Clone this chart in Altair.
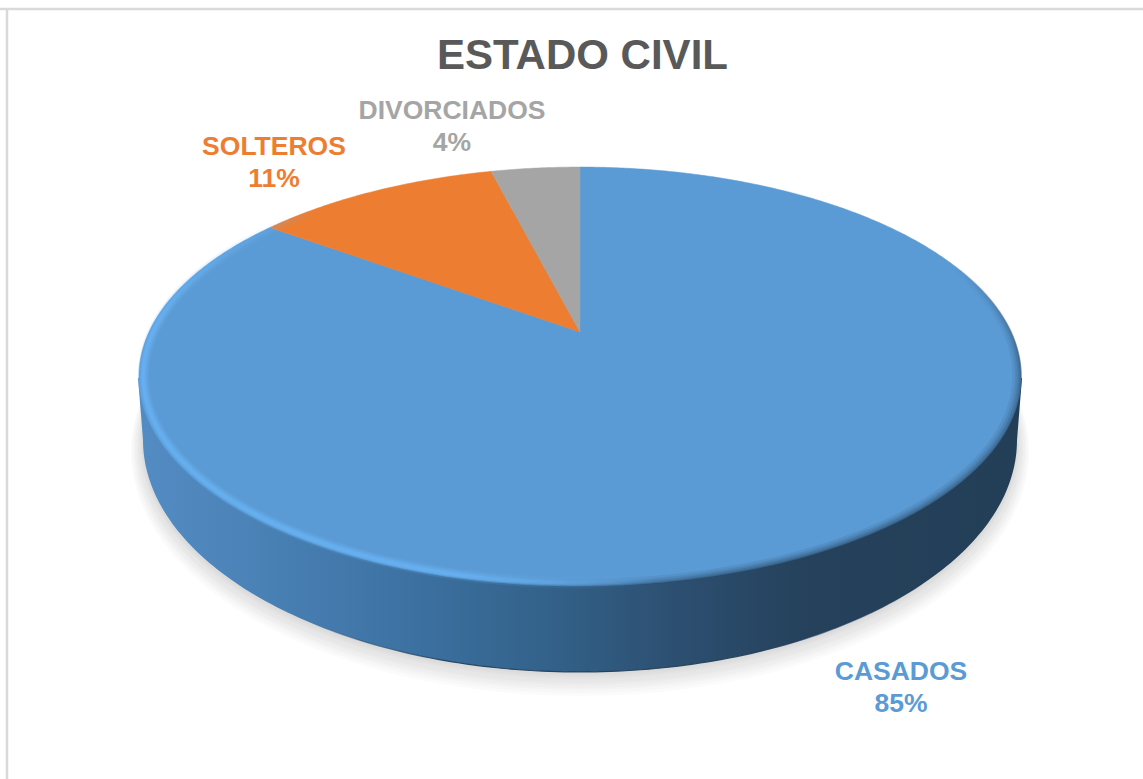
import math
import altair as alt
import pandas as pd

# Marital status shares, clockwise from twelve o'clock
categories = ["CASADOS", "SOLTEROS", "DIVORCIADOS"]
shares = [85, 11, 4]
colors = ["#5B9BD5", "#ED7D31", "#A5A5A5"]

W, H, TOP = 1143, 779, 70
# Tilted disc: a circle seen in perspective
CX, CY, AX, BY, K = 580.0, 332.0, 431.0, 200.0, 0.2124
# Outline of the disc's underside
LOW_CX, LOW_CY, LOW_A, LOW_B = 580.0, 440.0, 437.0, 232.0

x_scale = alt.Scale(domain=[0, W], range=[0, W], nice=False, zero=False)
y_scale = alt.Scale(domain=[H, TOP], range=[H - TOP, 0], nice=False, zero=False)


def face_point(deg, r=1.0):
    t = math.radians(deg)
    u, v = r * math.sin(t), -r * math.cos(t)
    d = 1 - K * v
    return CX + AX * u / d, CY + BY * v / d


def low_point(deg, grow=0.0, dy=0.0):
    t = math.radians(deg)
    return LOW_CX + (LOW_A + grow) * math.sin(t), LOW_CY + dy - (LOW_B + grow) * math.cos(t)


def sweep(fn, start, end, step=1.0, **kw):
    n = max(2, int(abs(end - start) / step))
    return [fn(start + (end - start) * i / n, **kw) for i in range(n + 1)]


def path_layer(points, **mark):
    df = pd.DataFrame(points, columns=["x", "y"])
    df["i"] = range(len(df))
    return alt.Chart(df).mark_line(clip=False, **mark).encode(
        x=alt.X("x:Q", scale=x_scale, axis=None),
        y=alt.Y("y:Q", scale=y_scale, axis=None),
        order="i:Q",
    )


def poly(points, color, **mark):
    return path_layer(points + points[:1], filled=True, color=color, **mark)


def fade(rgb, stops, vertical=False):
    """Linear gradient of one colour with (offset, alpha) stops."""
    ends = dict(x1=0, x2=0, y1=0, y2=1) if vertical else dict(x1=0, x2=1, y1=0, y2=0)
    return alt.Gradient(
        gradient="linear",
        stops=[alt.GradientStop(offset=o, color=f"rgba({rgb},{a})") for o, a in stops],
        **ends,
    )


layers = []

# Chart frame: top and left edges only
layers.append(path_layer([(0.0, 9.0), (1143.0, 9.0)], color="#D9D9D9", strokeWidth=2.5))
layers.append(path_layer([(7.0, 9.0), (7.0, 779.0)], color="#D9D9D9", strokeWidth=2.5))

# Soft shadow on the page beneath the disc
for grow, dy in [(12, 12), (11, 10), (9, 9), (8, 8), (6, 7), (5, 6), (3, 4), (2, 3), (1, 2)]:
    layers.append(poly(sweep(low_point, 0, 360, 2, grow=grow, dy=dy), "#000000", opacity=0.017, strokeWidth=0))

# Side wall with its left-to-right fall-off
wall_pts = sweep(low_point, 270, 90, 1) + [(1022.0, 378.0), (138.0, 378.0)]
wall_fill = alt.Gradient(
    gradient="linear", x1=0, x2=1, y1=0, y2=0,
    stops=[
        alt.GradientStop(offset=0.0, color="#538CC3"),
        alt.GradientStop(offset=0.10, color="#4D85BA"),
        alt.GradientStop(offset=0.30, color="#3D72A3"),
        alt.GradientStop(offset=0.46, color="#33628A"),
        alt.GradientStop(offset=0.62, color="#2C4E6F"),
        alt.GradientStop(offset=0.76, color="#25415B"),
        alt.GradientStop(offset=1.0, color="#233F58"),
    ],
)
layers.append(path_layer(wall_pts + wall_pts[:1], filled=True, color=wall_fill, strokeWidth=0))

# Dark seam along the bottom of the wall
seam = fade("31,59,87", [(0, 0), (0.25, 0.9), (0.75, 0.9), (1, 0)])
layers.append(path_layer(sweep(low_point, 222, 128, 1), stroke=seam, strokeWidth=1.2))

# Slices of the top face, drawn from the shares
angle = 0.0
total = sum(shares)
for name, share, color in zip(categories, shares, colors):
    span = 360.0 * share / total
    pts = [face_point(0, 0)] + sweep(face_point, angle, angle + span, 0.5)
    layers.append(poly(pts, color, strokeWidth=0.5, stroke=color))
    angle += span

# Shaded lip on the right and bottom of the face, fading out at both ends
lip_up = fade("36,64,90", [(0, 0), (0.35, 0.9), (1, 1)], vertical=True)
lip_low = fade("36,64,90", [(0, 0), (0.7, 1), (1, 1)])
for r, w, op in [(0.990, 8, 0.12), (0.994, 6, 0.16), (0.997, 4, 0.22), (0.9995, 2, 0.3)]:
    layers.append(path_layer(sweep(face_point, 68, 150, 1, r=r), stroke=lip_up, strokeWidth=w, opacity=op))
    layers.append(path_layer(sweep(face_point, 150, 195, 1, r=r), stroke=lip_low, strokeWidth=w, opacity=op))

# Bright bevel sweeping round the front-left edge
bevel_rgb = "104,178,243"
bevel_up = fade(bevel_rgb, [(0, 0), (1, 1)], vertical=True)
bevel_low = fade(bevel_rgb, [(0, 1), (0.6, 1), (1, 0)])
for r, w, op in [(0.990, 11, 0.18), (0.990, 8, 0.28), (0.990, 5, 0.45), (0.991, 3, 0.55)]:
    layers.append(path_layer(sweep(face_point, 315, 270, 1, r=r), stroke=bevel_up, strokeWidth=w, opacity=op))
    layers.append(path_layer(sweep(face_point, 270, 172, 1, r=r), stroke=bevel_low, strokeWidth=w, opacity=op))

# Slice labels: name and percentage
label_anchor = {"CASADOS": (901.0, 672.0), "SOLTEROS": (274.0, 147.0), "DIVORCIADOS": (452.0, 111.0)}
for name, share, color in zip(categories, shares, colors):
    ax, ay = label_anchor[name]
    df = pd.DataFrame({"x": [ax], "y": [ay], "t": [f"{name}\n{share}%"]})
    layers.append(alt.Chart(df).mark_text(
        font="Liberation Sans", fontWeight="bold", fontSize=26.5, color=color,
        lineBreak="\n", lineHeight=32, align="center", baseline="middle",
    ).encode(
        x=alt.X("x:Q", scale=x_scale, axis=None),
        y=alt.Y("y:Q", scale=y_scale, axis=None),
        text="t:N",
    ))

chart = alt.layer(*layers).properties(
    width=W,
    height=H - TOP,
    padding={"left": 0, "right": 0, "top": TOP, "bottom": 0},
    autosize=alt.AutoSizeParams(type="none"),
    title=alt.TitleParams(
        "ESTADO CIVIL", font="Liberation Sans", fontWeight="bold", fontSize=42,
        color="#595959", anchor="middle", dx=11, dy=108, offset=1, baseline="alphabetic",
    ),
).configure_view(stroke=None)

chart.save("out.html", embed_options={"renderer": "svg", "actions": False})
